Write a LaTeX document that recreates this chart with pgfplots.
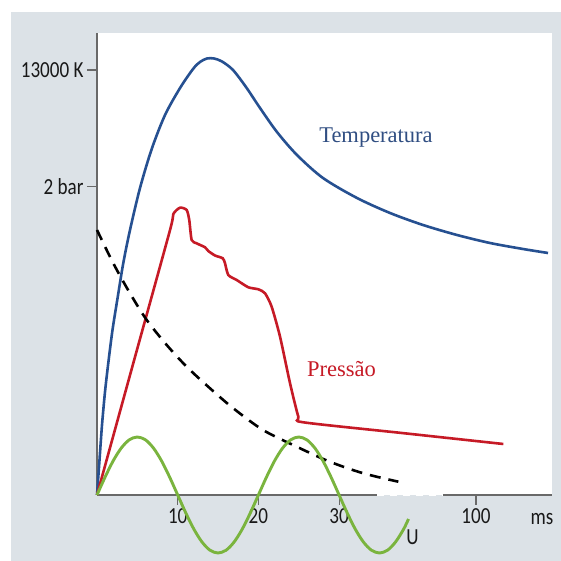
\documentclass[border=0pt]{standalone}
\usepackage{fontspec}
\setmainfont{Liberation Serif}
\newfontfamily\labfont[FakeStretch=0.83]{Carlito}
\usepackage{pgfplots}
\pgfplotsset{compat=1.18}
\definecolor{bggray}{RGB}{220,226,231}
\definecolor{axgray}{RGB}{105,105,105}
\definecolor{tempblue}{RGB}{38,80,145}
\definecolor{txtblue}{RGB}{48,78,130}
\definecolor{presred}{RGB}{198,26,38}
\definecolor{ugreen}{RGB}{122,180,62}
\definecolor{labgray}{RGB}{25,25,25}

\begin{document}
\begin{tikzpicture}[x=1pt,y=1pt]
% panel
\fill[white] (0,0) rectangle (561,561);
\fill[bggray] (11,0) rectangle (561,549);
\fill[white] (97,66) rectangle (552,528);
\begin{axis}[at={(97pt,66pt)}, anchor=south west, scale only axis,
  width=455pt, height=462pt,
  xmin=0, xmax=56.38, ymin=0, ymax=462, clip=false,
  axis x line*=bottom, axis y line*=left,
  x axis line style={draw=none},
  y axis line style={draw=axgray, line width=1.5pt, -},
  xtick={10,20,30,46.96}, xticklabels={10,20,30,100},
  ytick={308.3,425}, yticklabels={2 bar,13000 K},
  tick align=outside, major tick length=10pt,
  tick style={axgray, line width=1.2pt},
  tick label style={font=\labfont\fontsize{23}{26}\selectfont, text=labgray},
]
% broken time axis
\draw[axgray, line width=1.5pt] (axis cs:0,0) -- (axis cs:34.70,0);
\draw[axgray, line width=1.5pt] (axis cs:42.87,0) -- (axis cs:56.38,0);
\draw[white, line width=1.6pt, dash pattern=on 7pt off 6pt] (axis cs:34.70,0) -- (axis cs:42.87,0);

% temperature
\addplot[tempblue, line width=2.6pt, smooth] coordinates {
 (0,0) (0.31,35) (0.62,70) (0.99,103) (1.40,132) (1.92,165) (2.57,198) (3.26,232)
 (4.09,265) (5.33,307) (6.78,346) (8.43,380) (10.29,407) (11.90,426) (12.76,433)
 (13.63,436.5) (14.50,436.5) (15.49,433.5) (16.85,425) (18.46,408) (20.20,387)
 (22.30,363) (24.78,340) (28.00,317) (32.22,297) (36.31,282) (40.40,270)
 (44.61,260) (48.70,252) (52.79,246) (55.89,242)};

% pressure
\addplot[presred, line width=2.6pt, smooth, tension=0.4] coordinates {
 (0,0) (4.52,132.5) (9.05,265) (9.46,281) (10.29,287.3) (11.11,285) (11.43,275)
 (11.73,255) (12.34,251.7) (13.38,247.7) (13.79,244) (14.62,239.5) (15.58,236.7)
 (15.86,231.7) (16.27,220) (17.31,215) (18.75,207.7) (19.99,205.7) (20.82,201.7)
 (21.64,188.3) (22.68,158.3) (23.92,111.7) (24.95,78.3) (25.56,72.7)
 (37.95,61.85) (50.35,51)};

% dashed curve
\addplot[black, line width=2.6pt, smooth, dash pattern=on 11pt off 8pt] coordinates {
 (0,265) (2.02,231.7) (4.09,201.7) (6.16,175) (8.64,150) (11.11,128.3)
 (14.0,106.7) (16.89,86.7) (20.57,65) (24.74,48.3) (28.84,33.3) (33.0,21.7)
 (37.34,13.3)};

% voltage U
\addplot[ugreen, line width=2.9pt, smooth] coordinates {
 (0,0) (1,17.9) (2,34.1) (3,46.9) (4,55.2) (5,58) (6,55.2) (7,46.9) (8,34.1)
 (9,17.9) (10,0) (11,-17.9) (12,-34.1) (13,-46.9) (14,-55.2) (15,-58) (16,-55.2)
 (17,-46.9) (18,-34.1) (19,-17.9) (20,0) (21,17.9) (22,34.1) (23,46.9) (24,55.2)
 (25,58) (26,55.2) (27,46.9) (28,34.1) (29,17.9) (30,0) (31,-17.9) (32,-34.1)
 (33,-46.9) (34,-55.2) (35,-58) (36,-55.2) (37,-46.9) (38,-34.1) (38.6,-24)};

\node[txtblue, font=\fontsize{22.5}{26}\selectfont, anchor=base] at (axis cs:34.57,352) {Temperatura};
\node[presred, font=\fontsize{22.5}{26}\selectfont, anchor=base] at (axis cs:30.3,118.3) {Pressão};
\node[labgray, font=\labfont\fontsize{23}{26}\selectfont, anchor=base] at (axis cs:55.14,-30) {ms};
\node[labgray, font=\labfont\fontsize{23}{26}\selectfont, anchor=base] at (axis cs:39.1,-49) {U};
\end{axis}
\end{tikzpicture}
\end{document}
